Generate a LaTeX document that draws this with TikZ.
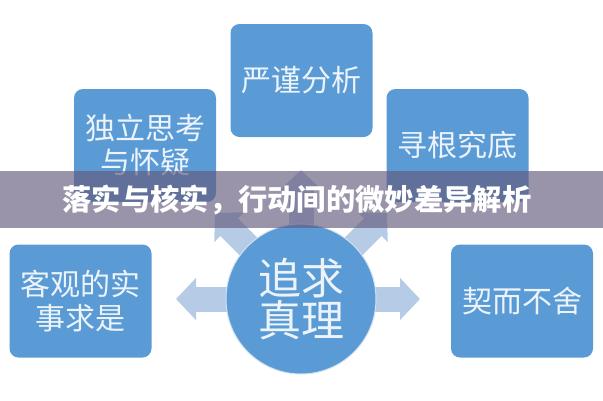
\documentclass[tikz,border=0pt]{standalone}
\usepackage{fontspec}
\newfontfamily\cjk{Noto Sans CJK SC}
\usetikzlibrary{arrows.meta}
\definecolor{boxblue}{RGB}{91,155,213}
\definecolor{arrowblue}{RGB}{182,203,230}
\definecolor{bandgray}{RGB}{100,90,125}
\definecolor{boxtext}{RGB}{236,243,250}

\begin{document}
\begin{tikzpicture}[x=1pt,y=-1pt,
box/.style={rectangle,rounded corners=9pt,fill=boxblue,text=boxtext,minimum width=142pt,minimum height=113pt,align=center,inner sep=2pt,font=\cjk\fontsize{30}{34}\selectfont},
spoke/.style={arrowblue,line width=25pt,-{Triangle[length=20pt,width=41pt]}},
headline/.style={text=white,font=\cjk\bfseries\fontsize{29.3}{31}\selectfont}]
\useasboundingbox (0,0) rectangle (603,400);

\node[box] (rigor) at (301.5,80.5) {严谨分析};
\node[box] (doubt) at (145,145.5) {独立思考\\与怀疑};
\node[box] (root) at (457.5,145.5) {寻根究底};
\node[box] (fact) at (80.5,301) {客观的实\\事求是};
\node[box] (keep) at (522,301) {契而不舍};

\coordinate (ctr) at (301,299);
\coordinate (tipW) at (176,299);
\coordinate (tipNW) at (215,213);
\coordinate (tipN) at (301,170);
\coordinate (tipNE) at (387,213);
\coordinate (tipE) at (420,299);
\draw[spoke] (ctr) -- (tipW);
\draw[spoke] (ctr) -- (tipNW);
\draw[spoke] (ctr) -- (tipN);
\draw[spoke] (ctr) -- (tipNE);
\draw[spoke] (ctr) -- (tipE);

\node[circle,fill=boxblue,draw=white!70!boxblue,line width=1pt,minimum size=150pt,text=boxtext,align=center,font=\cjk\fontsize{43}{42}\selectfont] (goal) at (ctr) {追求\\真理};

\fill[bandgray,opacity=0.65] (0,171) rectangle (603,228);
\node[headline] (title) at (297,200) {落实与核实，行动间的微妙差异解析};
\end{tikzpicture}
\end{document}
